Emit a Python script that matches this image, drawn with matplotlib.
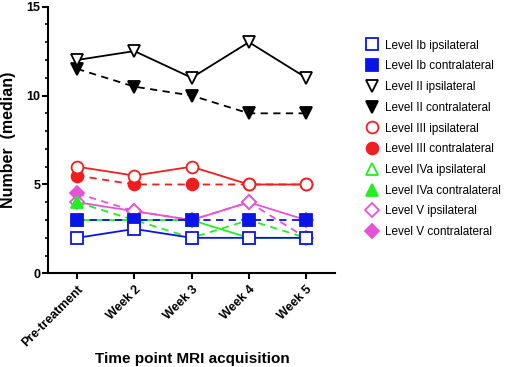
import matplotlib
matplotlib.use("Agg")
import matplotlib.pyplot as plt
from matplotlib.lines import Line2D
from matplotlib.ticker import MultipleLocator

plt.rcParams["font.family"] = ["Liberation Sans", "DejaVu Sans"]

timepoints = ["Pre-treatment", "Week 2", "Week 3", "Week 4", "Week 5"]

ib_ipsi = [2, 2.5, 2, 2, 2]
ib_contra = [3, 3, 3, 3, 3]
ii_ipsi = [12, 12.5, 11, 13, 11]
ii_contra = [11.5, 10.5, 10, 9, 9]
iii_ipsi = [6, 5.5, 6, 5, 5]
iii_contra = [5.5, 5, 5, 5, 5]
iva_ipsi = [3, 3, 3, 2, 2]
iva_contra = [4, 3, 2, 3, 2]
v_ipsi = [4, 3.5, 3, 4, 3]
v_contra = [4.5, 3.5, 3, 4, 2]

# label, values, colour, marker, filled, linestyle
series = [
    ("Level Ib ipsilateral", ib_ipsi, "#0a14e6", "s", False, "-"),
    ("Level Ib contralateral", ib_contra, "#0a14e6", "s", True, "--"),
    ("Level II ipsilateral", ii_ipsi, "black", "v", False, "-"),
    ("Level II contralateral", ii_contra, "black", "v", True, "--"),
    ("Level III ipsilateral", iii_ipsi, "#f01e1e", "o", False, "-"),
    ("Level III contralateral", iii_contra, "#f01e1e", "o", True, "--"),
    ("Level IVa ipsilateral", iva_ipsi, "#22ee22", "^", False, "-"),
    ("Level IVa contralateral", iva_contra, "#22ee22", "^", True, "--"),
    ("Level V ipsilateral", v_ipsi, "#e653d6", "D", False, "-"),
    ("Level V contralateral", v_contra, "#e653d6", "D", True, "--"),
]

fig = plt.figure(figsize=(5.05, 3.67), dpi=100)
ax = fig.add_axes([0.096, 0.255, 0.567, 0.727])

x = list(range(len(timepoints)))
handles = []
# draw lower series first so black/red stay on top
for label, vals, col, mk, filled, ls in reversed(series):
    ms = 7 if mk == "D" else 8.5
    ax.plot(x, vals, color=col, linestyle=ls, linewidth=1.3,
            marker=mk, markersize=ms, markeredgewidth=1.3,
            markerfacecolor=col if filled else "white", markeredgecolor=col,
            dashes=(4, 3) if ls == "--" else (None, None))
for label, vals, col, mk, filled, ls in series:
    ms = 7 if mk == "D" else 8.5
    handles.append(Line2D([], [], linestyle="none", marker=mk, markersize=ms,
                          markeredgewidth=1.3, color=col,
                          markerfacecolor=col if filled else "white",
                          label=label))

ax.set_xlim(-0.5, 4.5)
ax.set_ylim(0, 15)
ax.yaxis.set_major_locator(MultipleLocator(5))
ax.yaxis.set_minor_locator(MultipleLocator(1))
ax.set_xticks(x)
ax.set_xticklabels(timepoints, rotation=45, ha="right", rotation_mode="anchor",
                   fontweight="bold", fontsize=9)
for t in ax.get_yticklabels():
    t.set_fontweight("bold")
    t.set_fontsize(9)
ax.spines["top"].set_visible(False)
ax.spines["right"].set_visible(False)
ax.spines["left"].set_linewidth(1.5)
ax.spines["bottom"].set_linewidth(1.5)
ax.tick_params(axis="x", which="major", width=1.5, length=4, pad=3)
ax.tick_params(axis="y", which="major", width=1.5, length=4, pad=2)
ax.tick_params(axis="y", which="minor", width=1.2, length=2.5)

ax.set_ylabel("Number  (median)", fontweight="bold", fontsize=11.5)
ax.yaxis.set_label_coords(-0.115, 0.5)
ax.set_xlabel("Time point MRI acquisition", fontweight="bold", fontsize=11)
ax.xaxis.set_label_coords(0.501, -0.295)

fig.legend(handles=handles, loc="upper left", bbox_to_anchor=(0.715, 0.905),
           frameon=False, fontsize=8.5, handlelength=1.0, handletextpad=0.6,
           labelspacing=0.74, borderaxespad=0)

fig.savefig("out.png", dpi=100)
